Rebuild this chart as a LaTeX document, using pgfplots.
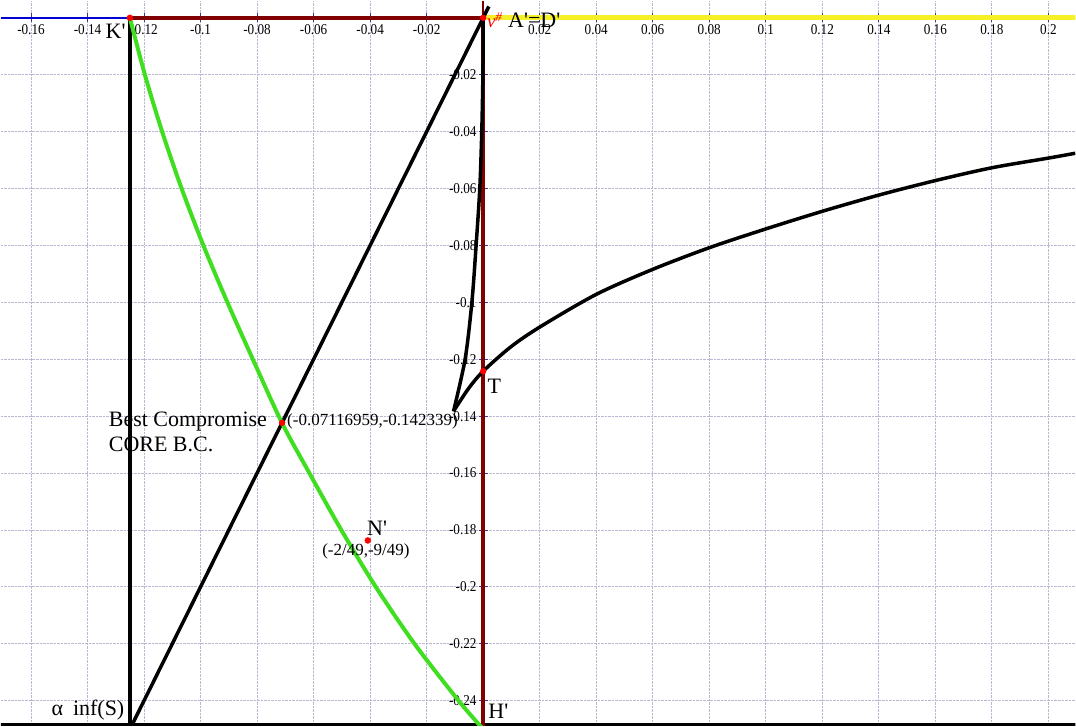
\documentclass[border=0pt]{standalone}
\usepackage{fontspec}
\setmainfont{Liberation Serif}[Ligatures=TeXOff]
\newfontfamily\tickfont{Liberation Serif}[FakeStretch=0.88,Ligatures=TeXOff]
\usepackage{pgfplots}
\usepackage{pgfplotstable}
\pgfplotsset{compat=1.18}
\definecolor{darkred}{RGB}{128,0,0}
\definecolor{lgreen}{RGB}{64,222,32}
\definecolor{ylw}{RGB}{246,240,40}
\definecolor{gridc}{RGB}{185,185,212}
\definecolor{tickc}{RGB}{70,50,150}
\newcommand{\labbig}{\fontsize{22}{24}\selectfont}
\newcommand{\labmid}{\fontsize{17}{19}\selectfont}

\pgfplotstableread{
x y
-0.1250 0
-0.1197 -0.02
-0.1136 -0.04
-0.1067 -0.06
-0.0990 -0.08
-0.0905 -0.10
-0.0815 -0.12
-0.0712 -0.14234
-0.0615 -0.16
-0.0502 -0.18
-0.0380 -0.20
-0.0243 -0.22
-0.0087 -0.24
0.0000 -0.25
}\greencurve

\pgfplotstableread{
x y
0.0000 0
-0.0001 -0.02
-0.0005 -0.04
-0.0012 -0.06
-0.0025 -0.08
-0.0040 -0.10
-0.0064 -0.12
-0.0105 -0.1383
}\leftbranch

\pgfplotstableread{
x y
-0.0105 -0.1383
-0.0052 -0.1303
0.0000 -0.1242
0.0097 -0.1157
0.0200 -0.1087
0.0400 -0.0972
0.0600 -0.0884
0.0800 -0.0808
0.1000 -0.0742
0.1200 -0.0680
0.1400 -0.0623
0.1600 -0.0572
0.1800 -0.0527
0.2000 -0.0493
0.2095 -0.0476
}\rightbranch

\begin{document}
\begin{tikzpicture}
\begin{axis}[
  scale only axis, width=1076pt, height=726pt,
  xmin=-0.1707, xmax=0.2095, ymin=-0.2488, ymax=0.006,
  axis lines=middle, axis line style={-},
  x axis line style={blue!85!black, line width=1.5pt},
  y axis line style={darkred, line width=1.5pt},
  xtick={-0.16,-0.14,-0.12,-0.1,-0.08,-0.06,-0.04,-0.02,0.02,0.04,0.06,0.08,0.1,0.12,0.14,0.16,0.18,0.2},
  xticklabels={-0.16,-0.14,-0.12,-0.1,-0.08,-0.06,-0.04,-0.02,0.02,0.04,0.06,0.08,0.1,0.12,0.14,0.16,0.18,0.2},
  ytick={-0.24,-0.22,-0.2,-0.18,-0.16,-0.14,-0.12,-0.1,-0.08,-0.06,-0.04,-0.02},
  yticklabels={-0.24,-0.22,-0.2,-0.18,-0.16,-0.14,-0.12,-0.1,-0.08,-0.06,-0.04,-0.02},
  grid=major, grid style={gridc, densely dotted, line width=0.9pt},
  tick align=center, major tick length=9pt, tick style={tickc, line width=0.9pt},
  xticklabel style={font=\tickfont\fontsize{15}{15}\selectfont, anchor=north, inner sep=2pt},
  yticklabel style={font=\tickfont\fontsize{15}{15}\selectfont, anchor=east, inner sep=2pt},
  clip=true,
]
% yellow positive x axis
\addplot[ylw, line width=5pt] coordinates {(0,0) (0.25,0)};
% bottom frame line
\addplot[black, line width=5pt] coordinates {(-0.2,-0.2488) (0.25,-0.2488)};
% K'A' segment and x=0 segment
\addplot[darkred, line width=4pt] coordinates {(-0.125,0) (0,0)};
\addplot[darkred, line width=4pt] coordinates {(0,0) (0,-0.26)};
% black vertical and diagonal
\addplot[black, line width=3.5pt] coordinates {(-0.125,0) (-0.125,-0.26)};
\addplot[black, line width=3.5pt] coordinates {(-0.125,-0.25) (0.002,0.004)};
% green curve
\addplot[lgreen, line width=4pt, smooth] table {\greencurve};
% black curve with cusp
\addplot[black, line width=3.5pt, smooth] table {\leftbranch};
\addplot[black, line width=3.5pt, smooth] table {\rightbranch};
% points
\addplot[only marks, mark=*, mark size=3pt, red, mark options={draw=red, fill=red}] coordinates {
 (-0.125,0) (0,0) (-0.07116959,-0.142339) (-0.0408163,-0.1836735) (0,-0.1242) (-0.125,-0.25) (0,-0.25)};
% labels
\node[anchor=base east, inner sep=0pt, font=\labbig] at (axis cs:-0.1265,-0.0074) {K'};
\node[anchor=base west, inner sep=0pt, font=\fontsize{19}{21}\selectfont, text=red] at (axis cs:0.0013,-0.0035) {\itshape ν\textsuperscript{\#}};
\node[anchor=base west, inner sep=0pt, font=\labbig] at (axis cs:0.0088,-0.0035) {A'=D'};
\node[anchor=base west, inner sep=0pt, font=\labbig] at (axis cs:0.0015,-0.1319) {T};
\node[anchor=base west, inner sep=0pt, font=\labbig] at (axis cs:0.0018,-0.2463) {H'};
\node[anchor=base east, inner sep=0pt, font=\labbig] at (axis cs:-0.1269,-0.2453) {α\hspace{0.45em}inf(S)};
\node[anchor=base west, inner sep=0pt, font=\labbig] at (axis cs:-0.1325,-0.1435) {Best Compromise};
\node[anchor=base west, inner sep=0pt, font=\labbig] at (axis cs:-0.1325,-0.1525) {CORE B.C.};
\node[anchor=base west, inner sep=0pt, font=\labmid] at (axis cs:-0.0694,-0.1432) {(-0.07116959,-0.142339)};
\node[anchor=base west, inner sep=0pt, font=\labbig] at (axis cs:-0.0411,-0.1821) {N'};
\node[anchor=base west, inner sep=0pt, font=\labmid] at (axis cs:-0.0570,-0.1888) {(-2/49,-9/49)};
\end{axis}
\end{tikzpicture}
\end{document}
